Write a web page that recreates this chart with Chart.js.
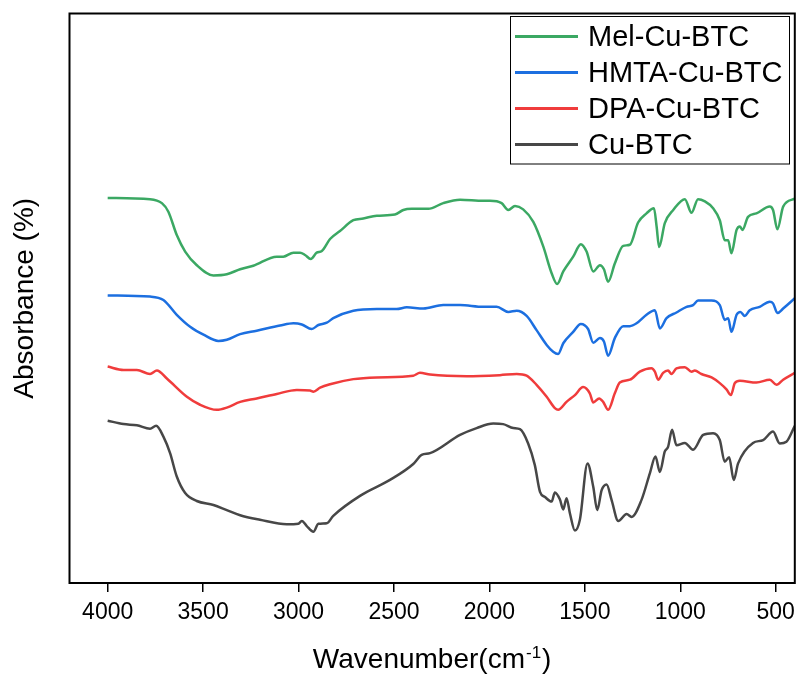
<!DOCTYPE html>
<html>
<head>
<meta charset="utf-8">
<title>FTIR spectra</title>
<script src="https://cdn.jsdelivr.net/npm/chart.js@4.4.1/dist/chart.umd.min.js"></script>
<style>
  html, body { margin: 0; padding: 0; background: #fff; }
  #wrap { width: 798px; height: 675px; position: relative; }
</style>
</head>
<body>
<div id="wrap"><canvas id="ftirChart"></canvas></div>
<script>
// Wavenumbers (cm-1) and absorbance (a.u., stacked) for each sample
const melWn = [4000,3778,3716,3682,3638,3594,3533,3446,3376,3306,3237,3114,3080,3027,2992,2966,2936,2905,2878,2835,2783,2713,2661,2590,2495,2451,2407,2320,2242,2154,2032,1997,1936,1901,1866,1823,1770,1718,1674,1645,1613,1561,1521,1491,1456,1421,1400,1378,1343,1299,1264,1221,1177,1138,1124,1111,1081,1037,976,941,907,871,828,793,767,749,732,705,688,674,645,601,531,514,491,461,400];
const melAbs = [67.6,67.4,66.7,65.2,61.1,58.2,55.8,54.0,54.2,55.1,55.7,57.3,57.3,58.0,58.0,57.6,56.9,58.0,58.3,60.4,61.8,63.7,64.0,64.5,64.7,65.5,65.7,65.7,66.7,67.3,67.1,67.1,66.7,65.5,66.2,65.6,63.4,59.1,54.4,52.5,54.7,57.3,59.5,58.2,54.7,55.8,55.1,52.9,56.1,59.2,59.4,63.3,64.9,65.8,62.6,59.0,63.2,65.5,67.4,65.0,67.4,67.0,65.8,63.7,60.2,60.2,57.9,62.0,62.6,62.0,64.3,64.9,66.1,65.5,62.1,66.1,67.5];

const hmtaWn = [4000,3778,3708,3638,3568,3498,3420,3376,3306,3219,3097,3027,2983,2931,2896,2852,2818,2713,2590,2486,2433,2346,2242,2154,2032,1962,1901,1857,1805,1753,1700,1666,1640,1613,1561,1521,1483,1456,1421,1400,1378,1343,1299,1264,1229,1177,1133,1107,1072,1020,967,933,907,836,793,767,749,732,705,685,662,636,584,531,514,491,461,400];
const hmtaAbs = [50.5,50.3,49.7,47.1,45.0,43.6,42.5,42.7,43.7,44.3,45.2,45.6,45.4,44.6,45.3,45.7,46.5,47.8,48.1,48.1,48.4,48.2,48.8,48.8,48.5,48.5,47.6,47.8,46.9,44.4,41.8,40.6,40.2,42.1,44.1,45.5,44.6,42.2,43.0,42.4,39.9,43.0,45.1,45.1,45.6,47.1,47.9,44.7,46.5,47.5,48.5,48.8,49.6,49.6,48.8,46.2,46.5,44.1,47.1,47.6,46.9,47.9,48.5,49.4,49.1,47.4,48.2,50.0];

const dpaWn = [4000,3917,3847,3778,3742,3690,3585,3516,3428,3376,3306,3219,3114,3009,2940,2922,2887,2835,2713,2590,2399,2364,2311,2119,1945,1857,1805,1753,1700,1657,1640,1596,1552,1509,1474,1456,1425,1404,1378,1343,1317,1264,1212,1151,1133,1116,1090,1064,1046,1020,976,941,924,889,836,793,758,735,714,688,601,531,496,461,400];
const dpaAbs = [38.0,37.4,37.4,36.7,37.3,35.9,32.7,31.3,30.4,30.8,31.8,32.4,33.2,33.9,33.8,33.6,34.3,34.9,35.8,36.1,36.4,36.9,36.6,36.3,36.5,36.7,36.4,34.8,32.7,30.7,30.4,31.8,33.0,34.4,33.3,31.7,32.4,31.8,30.4,33.3,35.2,35.7,37.1,37.7,37.1,35.7,36.9,37.3,36.7,37.7,37.9,37.1,37.3,36.7,36.1,35.1,34.0,33.0,35.1,35.5,35.2,35.7,34.8,35.7,36.9];

const cuWn = [4000,3917,3847,3778,3746,3708,3673,3638,3594,3533,3446,3376,3306,3202,3062,3001,2983,2957,2922,2896,2852,2818,2678,2521,2399,2355,2311,2154,2067,1980,1928,1875,1840,1797,1762,1735,1709,1674,1657,1631,1613,1596,1578,1552,1526,1486,1456,1435,1412,1386,1360,1325,1281,1255,1203,1159,1130,1107,1081,1064,1043,1020,976,933,880,828,793,767,744,720,697,619,566,514,479,444,400];
const cuAbs = [28.5,27.9,27.7,27.1,27.6,25.7,22.8,18.7,15.8,14.4,13.7,12.8,11.9,11.1,10.3,10.4,10.9,10.0,9.0,10.4,10.5,11.8,15.3,18.1,20.9,22.5,22.8,26.0,27.2,28.0,27.9,27.2,27.0,24.5,20.7,16.0,15.1,14.3,15.9,14.7,12.9,14.9,12.2,9.2,11.1,21.0,16.9,12.8,16.3,17.3,14.6,10.9,12.1,11.6,14.6,19.3,22.2,19.5,23.1,23.9,26.9,24.2,24.6,23.4,26.0,26.3,25.1,21.3,22.1,18.1,21.0,24.6,25.1,26.6,24.5,24.8,27.6];

const seriesNames = ['Mel-Cu-BTC', 'HMTA-Cu-BTC', 'DPA-Cu-BTC', 'Cu-BTC'];
const seriesColors = ['#3ba863', '#1c6fe0', '#f03c3c', '#474747'];
const xTicks = [4000, 3500, 3000, 2500, 2000, 1500, 1000, 500];

const FONT = "'Liberation Sans', Arial, sans-serif";

function toPoints(wn, abs) {
    return wn.map((w, i) => ({ x: w, y: abs[i] }));
}

const spectra = [
    toPoints(melWn, melAbs),
    toPoints(hmtaWn, hmtaAbs),
    toPoints(dpaWn, dpaAbs),
    toPoints(cuWn, cuAbs)
];

// box around the plot, framed legend and the x title with its superscript
const framePlugin = {
    id: 'framePlugin',
    afterDraw(chart) {
        const ctx = chart.ctx;
        const a = chart.chartArea;
        ctx.save();
        ctx.strokeStyle = '#000';
        ctx.lineWidth = 2;
        ctx.strokeRect(a.left, a.top, a.right - a.left, a.bottom - a.top);

        // legend
        ctx.lineWidth = 1;
        ctx.strokeRect(510.5, 16.5, 279, 147.5);
        ctx.font = '29px ' + FONT;
        ctx.textBaseline = 'middle';
        ctx.textAlign = 'left';
        chart.data.datasets.forEach((ds, i) => {
            const y = 36.5 + i * 36;
            ctx.strokeStyle = ds.borderColor;
            ctx.lineWidth = 3;
            ctx.beginPath();
            ctx.moveTo(515, y);
            ctx.lineTo(578, y);
            ctx.stroke();
            ctx.fillStyle = '#000';
            ctx.fillText(ds.label, 588, y + 1);
        });

        // x axis title: Wavenumber(cm-1)
        const main = 'Wavenumber(cm';
        const sup = '-1';
        const close = ')';
        ctx.fillStyle = '#000';
        ctx.textBaseline = 'alphabetic';
        ctx.font = '28px ' + FONT;
        const w1 = ctx.measureText(main).width;
        const w3 = ctx.measureText(close).width;
        ctx.font = '17px ' + FONT;
        const w2 = ctx.measureText(sup).width;
        const total = w1 + w2 + w3 + 2;
        let x = (a.left + a.right) / 2 - total / 2;
        const base = 668;
        ctx.font = '28px ' + FONT;
        ctx.fillText(main, x, base);
        x += w1 + 1;
        ctx.font = '17px ' + FONT;
        ctx.fillText(sup, x, base - 10);
        x += w2 + 1;
        ctx.font = '28px ' + FONT;
        ctx.fillText(close, x, base);
        ctx.restore();
    }
};

const ctx = document.getElementById('ftirChart').getContext('2d');
const ftirChart = new Chart(ctx, {
    type: 'line',
    data: {
        datasets: seriesNames.map((name, i) => ({
            label: name,
            data: spectra[i],
            borderColor: seriesColors[i],
            borderWidth: 2.5,
            pointRadius: 0,
            fill: false,
            cubicInterpolationMode: 'monotone'
        }))
    },
    options: {
        responsive: true,
        maintainAspectRatio: false,
        animation: false,
        layout: {
            padding: { top: 13.5, right: 3.2, left: 0, bottom: 0 }
        },
        plugins: {
            legend: { display: false },
            tooltip: { enabled: false }
        },
        scales: {
            x: {
                type: 'linear',
                reverse: true,
                min: 400,
                max: 4200,
                border: { display: false },
                grid: {
                    drawOnChartArea: false,
                    drawTicks: true,
                    tickLength: 9,
                    color: '#000',
                    lineWidth: 1.5
                },
                afterBuildTicks: function(scale) {
                    scale.ticks = xTicks.map(v => ({ value: v }));
                },
                ticks: {
                    color: '#000',
                    padding: 7,
                    maxRotation: 0,
                    autoSkip: false,
                    font: { family: FONT, size: 23 },
                    callback: function(value) {
                        return String(value);
                    }
                },
                afterFit: function(scale) {
                    scale.height = 92;
                    scale.paddingLeft = 0;
                    scale.paddingRight = 0;
                }
            },
            y: {
                min: 0,
                max: 100,
                border: { display: false },
                grid: { display: false },
                ticks: { display: false },
                title: {
                    display: true,
                    text: 'Absorbance (%)',
                    color: '#000',
                    padding: { top: 8, bottom: 0 },
                    font: { family: FONT, size: 28 }
                },
                afterFit: function(scale) {
                    scale.width = 69.5;
                }
            }
        }
    },
    plugins: [framePlugin]
});
</script>
</body>
</html>
